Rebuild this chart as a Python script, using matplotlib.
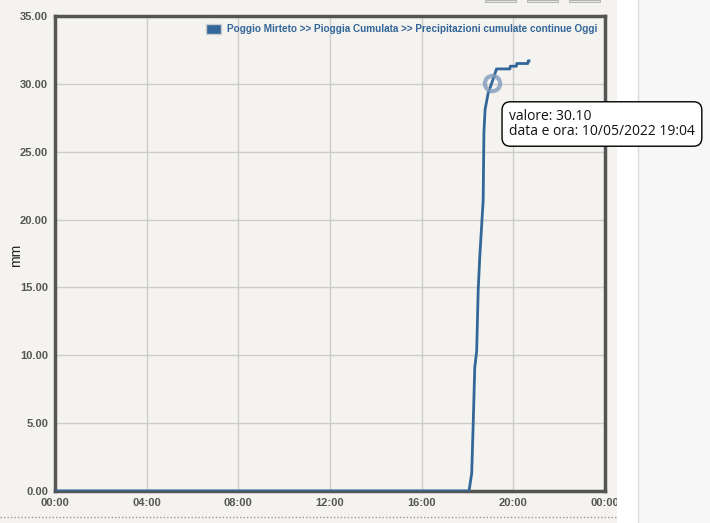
import matplotlib.pyplot as plt
from matplotlib.patches import Rectangle, Patch

# orari (hh:mm) e pioggia cumulata (mm)
times = ["00:00", "18:04", "18:11", "18:15", "18:19", "18:24", "18:28", "18:32",
         "18:38", "18:41", "18:43", "18:46", "18:54", "19:04", "19:16", "19:51",
         "19:52", "20:08", "20:09", "20:38", "20:39", "20:41"]
values = [0.0, 0.0, 1.3, 5.0, 9.1, 10.3, 14.8, 17.2,
          20.0, 21.4, 26.4, 28.1, 29.3, 30.1, 31.1, 31.1,
          31.3, 31.3, 31.5, 31.5, 31.7, 31.7]
xticks = [0, 4, 8, 12, 16, 20, 24]
xticklabels = ["00:00", "04:00", "08:00", "12:00", "16:00", "20:00", "00:00"]
yticks = [0, 5, 10, 15, 20, 25, 30, 35]

hours = [int(t[:2]) + int(t[3:]) / 60 for t in times]

bg = "#f4f3ef"
blue = "#336699"

plt.rcParams['font.family'] = ['Liberation Sans', 'DejaVu Sans']
fig = plt.figure(figsize=(7.10, 5.23), dpi=100, facecolor=bg)

# right side panel
fig.patches.append(Rectangle((617 / 710, 0), 21 / 710, 1, transform=fig.transFigure,
                             facecolor="white", edgecolor="none", zorder=0))
fig.patches.append(Rectangle((638 / 710, 0), 72 / 710, 1, transform=fig.transFigure,
                             facecolor="#f7f7f7", edgecolor="none", zorder=0))
fig.lines.append(plt.Line2D([638 / 710, 638 / 710], [0, 1], transform=fig.transFigure,
                            color="#dddddd", lw=1))
# dotted line under chart
fig.lines.append(plt.Line2D([0, 617 / 710], [1 - 517 / 523] * 2, transform=fig.transFigure,
                            color="#999999", lw=1, ls=(0, (1, 1.5))))
# small buttons at top
for x0 in [485, 527, 569]:
    fig.patches.append(Rectangle((x0 / 710, 1 - 2 / 523), 31 / 710, 2 / 523,
                                 transform=fig.transFigure, facecolor="#e8e8e8",
                                 edgecolor="#aaaaaa", lw=0.6))

ax = fig.add_axes([55 / 710, 1 - 491 / 523, 550 / 710, 475 / 523])
ax.set_facecolor(bg)

ax.plot(hours, values, color=blue, lw=2, zorder=3)
ax.plot([hours[13]], [values[13]], 'o', ms=11, mfc="none", mec="#7f9bbd", mew=3, alpha=0.8, zorder=4)

ax.set_xlim(0, 24)
ax.set_ylim(0, 35)
ax.set_xticks(xticks)
ax.set_xticklabels(xticklabels)
ax.set_yticks(yticks)
ax.set_yticklabels([f"{v:.2f}" for v in yticks])
ax.grid(True, color="#cccccc", lw=1)
ax.set_axisbelow(True)
ax.tick_params(length=0, labelsize=8, labelcolor="#555555", pad=5)
for lab in ax.get_xticklabels() + ax.get_yticklabels():
    lab.set_fontweight("bold")
for s in ax.spines.values():
    s.set_color("#555555")
    s.set_linewidth(2.5)
ax.set_ylabel("mm", fontsize=10, color="#222222")
ax.yaxis.set_label_coords(-0.058, 0.497)

handle = Patch(facecolor=blue, edgecolor="#cccccc", lw=1)
leg = ax.legend([handle], ["Poggio Mirteto >> Pioggia Cumulata >> Precipitazioni cumulate continue Oggi"],
                loc="upper right", frameon=False, fontsize=7.2, handlelength=1.5, handleheight=1.1,
                handletextpad=0.6, borderaxespad=0.4)
for t in leg.get_texts():
    t.set_color(blue)
    t.set_fontweight("bold")

fig.text(509 / 710, 1 - 124 / 523, "valore: 30.10\ndata e ora: 10/05/2022 19:04",
         fontsize=10, family=['Open Sans', 'DejaVu Sans'], color="#111111",
         va="center", ha="left", linespacing=1.05,
         bbox=dict(boxstyle="round,pad=0.5,rounding_size=0.6", fc="white", ec="black", lw=1))

fig.savefig("out.png", dpi=100, facecolor=bg)
